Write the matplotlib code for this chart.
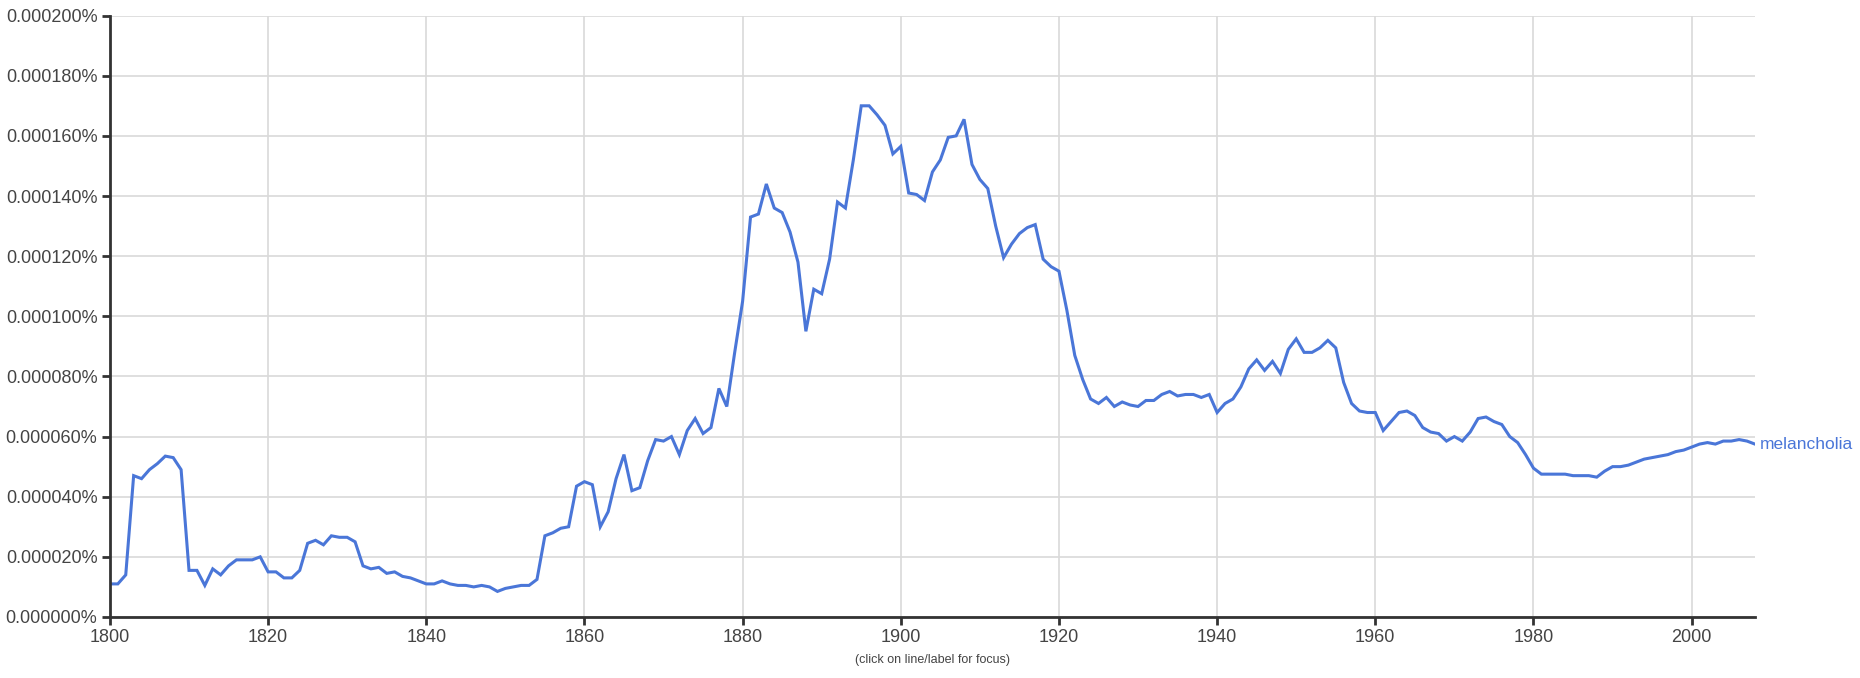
import numpy as np
import matplotlib.pyplot as plt
from matplotlib.ticker import FuncFormatter

plt.rcParams['font.family'] = ['Liberation Sans', 'DejaVu Sans']

### Data (frequency in percent)
years = np.arange(1800, 2009)
freq_e6 = [
    # 1800-1809
    11, 11, 14, 47, 46, 49, 51, 53.5, 53, 49,
    # 1810-1819
    15.5, 15.5, 10.5, 16, 14, 17, 19, 19, 19, 20,
    # 1820-1829
    15, 15, 13, 13, 15.5, 24.5, 25.5, 24, 27, 26.5,
    # 1830-1839
    26.5, 25, 17, 16, 16.5, 14.5, 15, 13.5, 13, 12,
    # 1840-1849
    11, 11, 12, 11, 10.5, 10.5, 10, 10.5, 10, 8.5,
    # 1850-1859
    9.5, 10, 10.5, 10.5, 12.5, 27, 28, 29.5, 30, 43.5,
    # 1860-1869
    45, 44, 30, 35, 46, 54, 42, 43, 52, 59,
    # 1870-1879
    58.5, 60, 54, 62, 66, 61, 63, 76, 70, 88,
    # 1880-1889
    105, 133, 134, 144, 136, 134.5, 128, 118, 95, 109,
    # 1890-1899
    107.5, 119, 138, 136, 152, 170, 170, 167, 163.5, 154,
    # 1900-1909
    156.5, 141, 140.5, 138.5, 148, 152, 159.5, 160, 165.5, 150.5,
    # 1910-1919
    145.5, 142.5, 130, 119.5, 124, 127.5, 129.5, 130.5, 119, 116.5,
    # 1920-1929
    115, 102, 87, 79, 72.5, 71, 73, 70, 71.5, 70.5,
    # 1930-1939
    70, 72, 72, 74, 75, 73.5, 74, 74, 73, 74,
    # 1940-1949
    68, 71, 72.5, 76.5, 82.5, 85.5, 82, 85, 81, 89,
    # 1950-1959
    92.5, 88, 88, 89.5, 92, 89.5, 78, 71, 68.5, 68,
    # 1960-1969
    68, 62, 65, 68, 68.5, 67, 63, 61.5, 61, 58.5,
    # 1970-1979
    60, 58.5, 61.5, 66, 66.5, 65, 64, 60, 58, 54,
    # 1980-1989
    49.5, 47.5, 47.5, 47.5, 47.5, 47, 47, 47, 46.5, 48.5,
    # 1990-1999
    50, 50, 50.5, 51.5, 52.5, 53, 53.5, 54, 55, 55.5,
    # 2000-2008
    56.5, 57.5, 58, 57.5, 58.5, 58.5, 59, 58.5, 57.5,
]
freq = np.array(freq_e6) * 1e-6
word = 'melancholia'

x_ticks = np.arange(1800, 2001, 20)
y_ticks = np.arange(0, 0.000201, 0.00002)

### Plot
line_color = '#4a76d8'
fig = plt.figure(figsize=(18.6, 6.78), dpi=100)
ax = fig.add_axes([0.0591, 0.09, 0.9435 - 0.0591, 0.887])

ax.plot(years, freq, color=line_color, lw=2.2, solid_joinstyle='miter')
ax.text(years[-1] + 0.6, freq[-1], word, color=line_color, fontsize=12.5,
        ha='left', va='center', clip_on=False)

ax.set_xlim(1800, 2008)
ax.set_ylim(0, 0.0002)
ax.set_xticks(x_ticks)
ax.set_yticks(y_ticks)
ax.yaxis.set_major_formatter(FuncFormatter(lambda v, p: '%.6f%%' % v))
ax.grid(True, color='#d9d9d9', lw=1.2)
ax.set_axisbelow(True)

for s in ['top', 'right']:
    ax.spines[s].set_visible(False)
for s in ['left', 'bottom']:
    ax.spines[s].set_color('#333333')
    ax.spines[s].set_linewidth(2)
ax.tick_params(axis='both', colors='#333333', width=2, length=6,
               labelsize=13, labelcolor='#444444')
ax.tick_params(axis='x', pad=3)
ax.tick_params(axis='y', pad=3)

fig.text(0.5015, 0.018, '(click on line/label for focus)', ha='center',
         va='bottom', fontsize=9, color='#444444')

plt.savefig('out.png', dpi=100)
